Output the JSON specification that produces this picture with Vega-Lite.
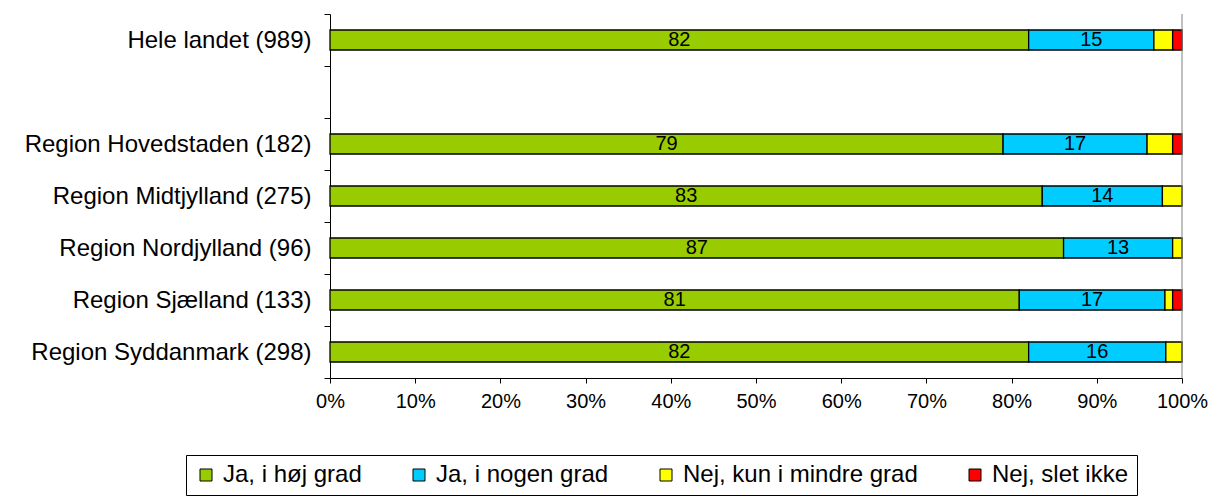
{
  "$schema": "https://vega.github.io/schema/vega-lite/v6.json",
  "width": 852,
  "height": 364,
  "autosize": {"type": "none"},
  "padding": {"left": 330, "top": 14, "right": 29, "bottom": 118},
  "background": "white",
  "config": {
    "font": "Liberation Sans",
    "view": {"stroke": null},
    "axis": {"domainColor": "black", "tickColor": "black", "labelColor": "black", "labelFont": "Liberation Sans", "grid": false, "title": null}
  },
  "data": {
    "values": [
      {"cat": "Hele landet (989)", "resp": "Ja, i høj grad", "order": 1, "value": 82.0, "label": "82"},
      {"cat": "Hele landet (989)", "resp": "Ja, i nogen grad", "order": 2, "value": 14.7, "label": "15"},
      {"cat": "Hele landet (989)", "resp": "Nej, kun i mindre grad", "order": 3, "value": 2.2, "label": null},
      {"cat": "Hele landet (989)", "resp": "Nej, slet ikke", "order": 4, "value": 1.1, "label": null},
      {"cat": "Region Hovedstaden (182)", "resp": "Ja, i høj grad", "order": 1, "value": 79.0, "label": "79"},
      {"cat": "Region Hovedstaden (182)", "resp": "Ja, i nogen grad", "order": 2, "value": 16.9, "label": "17"},
      {"cat": "Region Hovedstaden (182)", "resp": "Nej, kun i mindre grad", "order": 3, "value": 3.0, "label": null},
      {"cat": "Region Hovedstaden (182)", "resp": "Nej, slet ikke", "order": 4, "value": 1.1, "label": null},
      {"cat": "Region Midtjylland (275)", "resp": "Ja, i høj grad", "order": 1, "value": 83.6, "label": "83"},
      {"cat": "Region Midtjylland (275)", "resp": "Ja, i nogen grad", "order": 2, "value": 14.1, "label": "14"},
      {"cat": "Region Midtjylland (275)", "resp": "Nej, kun i mindre grad", "order": 3, "value": 2.3, "label": null},
      {"cat": "Region Nordjylland (96)", "resp": "Ja, i høj grad", "order": 1, "value": 86.1, "label": "87"},
      {"cat": "Region Nordjylland (96)", "resp": "Ja, i nogen grad", "order": 2, "value": 12.8, "label": "13"},
      {"cat": "Region Nordjylland (96)", "resp": "Nej, kun i mindre grad", "order": 3, "value": 1.1, "label": null},
      {"cat": "Region Sjælland (133)", "resp": "Ja, i høj grad", "order": 1, "value": 80.9, "label": "81"},
      {"cat": "Region Sjælland (133)", "resp": "Ja, i nogen grad", "order": 2, "value": 17.1, "label": "17"},
      {"cat": "Region Sjælland (133)", "resp": "Nej, kun i mindre grad", "order": 3, "value": 0.9, "label": null},
      {"cat": "Region Sjælland (133)", "resp": "Nej, slet ikke", "order": 4, "value": 1.1, "label": null},
      {"cat": "Region Syddanmark (298)", "resp": "Ja, i høj grad", "order": 1, "value": 82.0, "label": "82"},
      {"cat": "Region Syddanmark (298)", "resp": "Ja, i nogen grad", "order": 2, "value": 16.1, "label": "16"},
      {"cat": "Region Syddanmark (298)", "resp": "Nej, kun i mindre grad", "order": 3, "value": 1.9, "label": null}
    ]
  },
  "transform": [
    {"stack": "value", "groupby": ["cat"], "sort": [{"field": "order", "order": "ascending"}], "as": ["v0", "v1"]}
  ],
  "layer": [
    {
      "mark": {"type": "bar", "stroke": "black", "strokeWidth": 1.3, "height": {"band": 0.385}},
      "encoding": {
        "y": {
          "field": "cat", "type": "nominal",
          "scale": {"domain": ["Hele landet (989)", " ", "Region Hovedstaden (182)", "Region Midtjylland (275)", "Region Nordjylland (96)", "Region Sjælland (133)", "Region Syddanmark (298)"], "paddingInner": 0, "paddingOuter": 0},
          "axis": {"tickBand": "extent", "labelFontSize": 24, "labelLimit": 0, "tickSize": 6, "labelPadding": 13, "domainWidth": 1}
        },
        "x": {
          "field": "v0", "type": "quantitative",
          "scale": {"domain": [0, 100], "nice": false},
          "axis": {"values": [0, 10, 20, 30, 40, 50, 60, 70, 80, 90, 100], "labelExpr": "datum.value + '%'", "labelFontSize": 20, "labelFlush": false, "tickSize": 5, "labelPadding": 8}
        },
        "x2": {"field": "v1"},
        "color": {
          "field": "resp", "type": "nominal",
          "scale": {"domain": ["Ja, i høj grad", "Ja, i nogen grad", "Nej, kun i mindre grad", "Nej, slet ikke"], "range": ["#99CC00", "#00CCFF", "#FFFF00", "#FF0000"]},
          "legend": {
            "title": null, "orient": "none", "direction": "horizontal", "legendX": -144, "legendY": 441,
            "labelFontSize": 24, "labelLimit": 0, "labelColor": "black", "labelFont": "Liberation Sans", "labelOffset": 5,
            "symbolType": "square", "symbolSize": 144, "symbolStrokeColor": "black", "symbolStrokeWidth": 1, "symbolOpacity": 1,
            "strokeColor": "black", "padding": 8, "columnPadding": 45, "fillColor": "white"
          }
        }
      }
    },
    {
      "transform": [
        {"filter": "datum.label != null"},
        {"calculate": "(datum.v0 + datum.v1) / 2", "as": "mid"}
      ],
      "mark": {"type": "text", "fontSize": 20, "color": "black", "align": "center", "baseline": "middle"},
      "encoding": {
        "y": {"field": "cat", "type": "nominal"},
        "x": {"field": "mid", "type": "quantitative"},
        "text": {"field": "label"}
      }
    },
    {
      "data": {"values": [{"edge": 100}]},
      "mark": {"type": "rule", "color": "#808080", "strokeWidth": 1},
      "encoding": {"x": {"field": "edge", "type": "quantitative"}}
    }
  ]
}
